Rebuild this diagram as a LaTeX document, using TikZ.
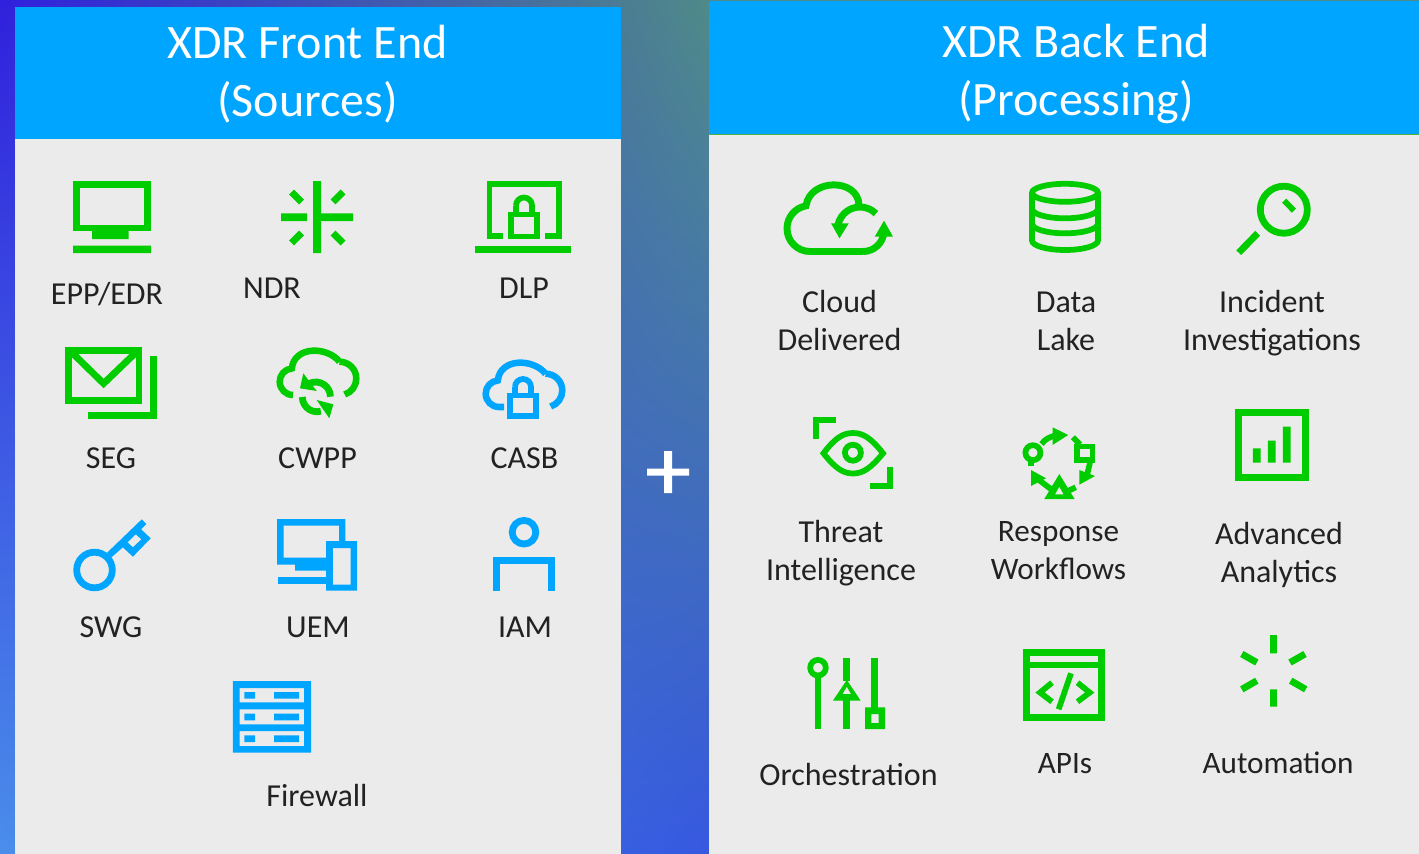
\documentclass[tikz,border=0pt]{standalone}
\usepackage{fontspec}
\usetikzlibrary{shadings}
\setmainfont{Carlito}
\definecolor{gr}{HTML}{00CC00}
\definecolor{bl}{HTML}{00A5FF}
\definecolor{pan}{HTML}{EBEBEB}
\definecolor{ink}{HTML}{222222}
\definecolor{bgA}{HTML}{3020DD}
\definecolor{bgB}{HTML}{4F8A88}
\definecolor{bgC}{HTML}{4A8EEA}
\definecolor{bgD}{HTML}{3658E0}
\definecolor{sliver}{HTML}{50B040}
\newcommand\AR[5]{([shift={(#1,-#2)}]#4:#3) arc[start angle=#4,end angle=#5,radius=#3]}
\newcommand\RC[4]{(#1,-#2) rectangle (#3,-#4)}
\tikzset{
 x=0.75pt,y=0.75pt,
 lab/.style={font=\fontsize{24}{28}\selectfont,text=ink,inner sep=0pt,align=center,anchor=center},
 labs/.style={lab,font=\fontsize{23.4}{28}\selectfont},
 hd/.style={font=\fontsize{36}{43.5}\selectfont,text=white,inner sep=0pt,align=center,anchor=center},
 ln/.style={line width=5.1pt,line cap=butt,line join=miter},
 gl/.style={ln,draw=gr},
 bll/.style={ln,draw=bl},
 thn/.style={line width=4.3pt},
 eo/.style={even odd rule}
}
\begin{document}
\begin{tikzpicture}
\useasboundingbox (0,0) rectangle (1419,-853);
\shade[lower left=bgC,upper left=bgA,upper right=bgB,lower right=bgD] (0,0) rectangle (709,-856);
\fill[bgB] \RC{709}{0}{1419}{1};
\fill[pan] \RC{15}{7}{621}{856};
\fill[pan] \RC{709}{1}{1419}{856};
\fill[bl] \RC{15}{7}{621}{139};
\fill[bl] \RC{709}{1}{1419}{134};
\fill[sliver] \RC{709}{134}{1419}{135};
\node[hd] (front) at (307.5,-74.5) {XDR Front End\\(Sources)};
\node[hd] (back) at (1076,-74) {XDR Back End\\(Processing)};
% plus
\fill[white] \RC{647}{468.5}{689}{475.5} \RC{664}{451}{672}{493};
% EPP
\draw[gl] \RC{76.7}{184.5}{147.2}{228};
\fill[gr] \RC{92}{228}{128.6}{239} \RC{73}{245.7}{151}{253};
\node[lab] (epp) at (107,-294) {EPP/EDR};
% NDR
\fill[gr] \RC{313.2}{181}{321}{253} \RC{281}{213.3}{307}{221} \RC{321}{213.3}{353}{221};
\draw[gl,line width=5.2pt] (291.5,-192) -- (301.5,-202) (343,-192) -- (333,-202) (291.5,-243) -- (301.5,-233) (343,-243) -- (333,-233);
\node[lab] (ndr) at (272,-288) {NDR};
% DLP
\draw[gl,thn] (503,-236) -- (489.4,-236) -- (489.4,-184.3) -- (559,-184.3) -- (559,-236) -- (545,-236);
\fill[gr] \RC{475}{246}{571}{253};
\draw[gl,thn] \RC{511}{214.5}{537}{236.5};
\draw[gl,thn] (516,-213) -- (516,-205.5) \AR{524}{205.5}{8}{180}{0} -- (532,-213);
\node[lab] (dlp) at (524,-288) {DLP};
% SEG
\draw[gl] \RC{68.5}{350.5}{139}{400.2};
\draw[gl] (71.4,-352) -- (103.6,-383.5) -- (136.4,-352);
\draw[gl] (153.5,-355.7) -- (153.5,-415.2) -- (88,-415.2);
\node[lab] (seg) at (111,-458) {SEG};
% CWPP
\draw[gl,line width=4.9pt] (293,-395) arc[start angle=270,end angle=95,radius=13.3] .. controls (294,-346) and (327,-346) .. (339.5,-361.7) \AR{339.5}{378.5}{16.8}{90}{-72} ;
\draw[gl] \AR{315.7}{396.7}{14.7}{115}{0};
\draw[gl] \AR{317}{397}{14.7}{180}{285};
\fill[gr] (303.3,-373.3) -- (300,-388.3) -- (316.7,-391) -- cycle (316.7,-400) -- (333.3,-404.3) -- (329.3,-418.3) -- cycle;
\node[lab] (cwpp) at (317.5,-458) {CWPP};
% CASB
\draw[bll,line width=4.9pt] (504,-407) -- (499,-407) arc[start angle=270,end angle=95,radius=13.3] .. controls (500,-358) and (533,-358) .. (545.5,-373.7) \AR{545.5}{390.5}{16.8}{90}{-72};
\draw[bll,thn] \RC{510}{395.5}{535.8}{416};
\draw[bll,thn] (515,-394) -- (515,-387) \AR{523}{387}{8}{180}{0} -- (531,-394);
\node[lab] (casb) at (524.5,-458) {CASB};
% SWG
\draw[bll] (94.5,-570) circle (17.8);
\fill[bl,eo] (107.1,-552.7) -- (141.8,-519.3) -- (146.4,-524) -- (141.1,-529.3) -- (150.7,-538.3) -- (132.9,-556.7) -- (122.9,-547.3) -- (111.4,-557.3) -- cycle
 (135.7,-534.3) -- (141.4,-539.3) -- (132.9,-547.3) -- (127.5,-542.3) -- cycle;
\node[lab] (swg) at (111,-627) {SWG};
% UEM
\fill[bl,eo] (277,-519) -- (345.4,-519) -- (345.4,-541) -- (339,-541) -- (339,-525.7) -- (283.6,-525.7) -- (283.6,-557.7) -- (326,-557.7) -- (326,-570.7) -- (295,-570.7) -- (295,-564.7) -- (277,-564.7) -- cycle;
\fill[bl] \RC{277.9}{577.3}{326.4}{584};
\fill[bl,eo] \RC{326}{541}{357}{590.7} \RC{332.9}{548}{350.7}{584.7};
\node[lab] (uem) at (318,-627.5) {UEM};
% IAM
\draw[bll] (524,-532.2) circle (11.8);
\draw[bll] (496.7,-590.7) -- (496.7,-560.5) -- (551.2,-560.5) -- (551.2,-590.7);
\node[lab] (iam) at (525,-627) {IAM};
% Firewall
\fill[bl,eo] \RC{232.9}{681}{311}{752.7} \RC{239.6}{688}{304}{702.3} \RC{239.6}{709.3}{304}{724.3} \RC{239.6}{731}{304}{746};
\fill[bl] \RC{244.3}{692}{255}{698.7} \RC{274}{692}{299}{698.7} \RC{244.3}{713.7}{255}{720.3} \RC{274}{713.7}{299}{720.3} \RC{244.3}{735.3}{255}{742} \RC{274}{735.3}{299}{742};
\node[lab] (fw) at (317,-795.5) {Firewall};
% Cloud Delivered
\draw[gl,line width=5.2pt] (863,-251.5) -- (810,-251.5) \AR{810}{228.5}{23}{270}{100} .. controls (810,-178) and (858,-178) .. (859,-205);
\draw[gl,line width=5.2pt] (863,-251.5) arc[start angle=-90,end angle=-5,radius=21];
\draw[gl,line width=5.2pt] \AR{860}{229.5}{22.5}{45}{180};
\fill[gr] (831,-223.3) -- (848.8,-223.3) -- (839.5,-238.3) -- cycle (884,-220.7) -- (874.7,-236.7) -- (893,-236.7) -- cycle;
\node[lab] (cloud) at (839.5,-320.5) {Cloud\\[0.5pt]Delivered};
% Data lake
\draw[gl,thn] (1065,-192.8) ellipse (33 and 9);
\draw[gl,thn] (1032,-192.8) -- (1032,-240.5) arc[x radius=33,y radius=9.5,start angle=180,end angle=360] -- (1098,-192.8);
\draw[gl,thn] (1032,-208.8) arc[x radius=33,y radius=9.5,start angle=180,end angle=360];
\draw[gl,thn] (1032,-223.8) arc[x radius=33,y radius=9.5,start angle=180,end angle=360];
\node[lab] (lake) at (1066,-321.5) {Data\\[0.5pt]Lake};
% Magnifier
\draw[gl] (1283.8,-209.7) circle (23.5);
\draw[gl,thn] (1284.2,-200.7) -- (1293.9,-210.7);
\draw[gl] (1257.6,-233.3) -- (1238.7,-252.7);
\node[lab] (inc) at (1272,-323.5) {Incident\\[0.5pt]Investigations};
% Threat
\draw[gl,thn] (816,-439) -- (816,-420) -- (836,-420);
\draw[gl,thn] (890,-466.7) -- (890,-486) -- (870.4,-486);
\draw[gl,thn] (823.5,-453.3) .. controls (835,-438) and (843,-433) .. (853,-433) .. controls (863,-433) and (871,-438) .. (883,-453.3) .. controls (871,-468) and (863,-473.5) .. (853,-473.5) .. controls (843,-473.5) and (835,-468) .. cycle;
\draw[gl,thn] (852.9,-452.7) circle (8);
\node[lab] (threat) at (841,-553.5) {Threat\\[0.5pt]Intelligence};
% Response workflows
\draw[gl,thn] (1032.9,-452.7) circle (7.5);
\fill[gr] \RC{1028}{458}{1034}{465.7};
\draw[gl,thn] (1041.5,-444) .. controls (1045,-439) and (1050,-437) .. (1055,-435.5);
\fill[gr] (1052.5,-427.3) -- (1068.2,-435) -- (1052.5,-445) -- cycle;
\draw[gl,thn] \RC{1077}{446.5}{1092.6}{460.2};
\draw[gl,thn] (1072.9,-437.3) -- (1080,-444.5);
\draw[gl,thn] (1090,-462.7) -- (1087,-475);
\fill[gr] (1079.3,-470) -- (1095,-476) -- (1079.3,-484.7) -- cycle;
\fill[gr,eo] (1059.3,-474) -- (1044.3,-499) -- (1074.6,-499) -- cycle (1059.3,-486.7) -- (1055,-494.3) -- (1063.6,-494.3) -- cycle;
\draw[gl,thn] (1068.6,-490.7) -- (1075.7,-487.3);
\fill[gr] (1031,-470) -- (1046,-478.3) -- (1031,-486) -- cycle;
\draw[gl,thn] (1039,-480) -- (1053,-490.7);
\node[labs] (resp) at (1058.5,-550.5) {Response\\[0.5pt]Workflows};
% Analytics
\draw[gl] \RC{1238.5}{412.5}{1305.5}{477.5};
\fill[gr] \RC{1252.9}{448.3}{1260.7}{462.7} \RC{1267.9}{440.7}{1275.7}{462.7} \RC{1282.9}{426.7}{1290.7}{462.7};
\node[lab] (adv) at (1279,-555) {Advanced\\[0.5pt]Analytics};
% Orchestration
\draw[gl,thn] (818,-667.7) circle (7.8);
\draw[gl] (818,-676) -- (818,-729);
\draw[gl] (846.8,-657.7) -- (846.8,-681) (846.8,-700) -- (846.8,-729);
\fill[gr,eo] (846.8,-680) -- (832.9,-700.7) -- (860.7,-700.7) -- cycle (846.8,-686.7) -- (842.5,-694) -- (851,-694) -- cycle;
\draw[gl] (874.7,-657.7) -- (874.7,-708);
\fill[gr,eo] \RC{865}{707.3}{885}{729} \RC{871.4}{714}{878.6}{723};
\node[lab] (orch) at (848.5,-774.5) {Orchestration};
% APIs
\draw[gl] \RC{1026.4}{652.5}{1101.5}{717.5};
\fill[gr] \RC{1026}{661.7}{1102}{667.7};
\draw[gl,thn] (1052,-682.7) -- (1040,-692.5) -- (1052,-701.7) (1077.5,-682.7) -- (1089.7,-692.5) -- (1077.5,-701.7) (1071,-673.3) -- (1058.6,-709.3);
\node[labs] (apis) at (1065,-764) {APIs};
% Automation
\draw[gl] (1273.5,-635) -- (1273.5,-653.3) (1273.5,-689.3) -- (1273.5,-706.7) (1241.8,-654) -- (1256.8,-662.5) (1305,-654) -- (1290,-662.5) (1256.8,-680.7) -- (1241.8,-689.3) (1290.7,-680.7) -- (1305.7,-689.3);
\node[labs] (auto) at (1278,-763) {Automation};
\end{tikzpicture}
\end{document}
